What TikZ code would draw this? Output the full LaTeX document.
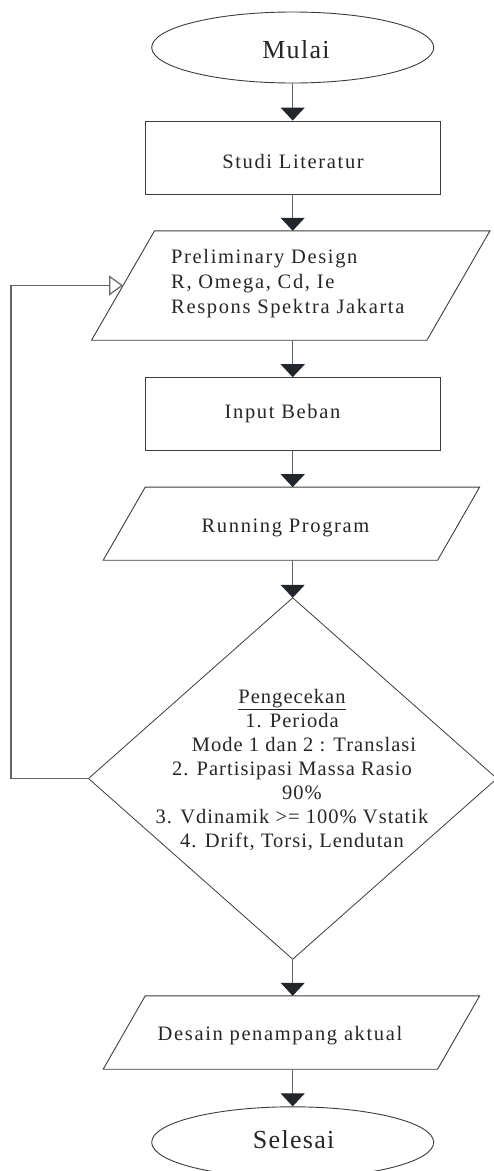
\documentclass[tikz,border=0pt]{standalone}
\usepackage{fontspec}
\setmainfont{Liberation Serif}
\newfontfamily\boxfont{Liberation Serif}[LetterSpace=8]
\newfontfamily\diafont{Liberation Serif}[LetterSpace=5]
\usetikzlibrary{shapes.geometric,arrows.meta}
\definecolor{txtc}{HTML}{262626}
\definecolor{shapec}{HTML}{3C3C3C}
\definecolor{connc}{HTML}{666666}
\definecolor{headc}{HTML}{22262B}
\tikzset{
  shapeline/.style={draw=shapec, line width=0.9pt},
  termbox/.style={ellipse, shapeline, minimum width=282pt, minimum height=71pt, inner sep=0pt},
  procbox/.style={rectangle, shapeline, minimum width=295pt, inner sep=0pt},
  hiddenbox/.style={rectangle, draw=none, inner sep=0pt},
  boxtext/.style={text=txtc, inner sep=0pt, anchor=base, font={\boxfont\fontsize{20.5}{25}\selectfont}},
  termtext/.style={text=txtc, inner sep=0pt, anchor=base, font={\diafont\fontsize{26}{30}\selectfont}},
  diatext/.style={text=txtc, inner sep=0pt, anchor=base, font={\diafont\fontsize{20.5}{24}\selectfont}},
  flow/.style={draw=connc, line width=1.2pt, -{Triangle[width=24pt,length=13pt,color=headc]}},
  loopflow/.style={draw=connc, line width=1.2pt, -{Triangle[open,width=20pt,length=14pt,fill=white]}},
}
\begin{document}
\begin{tikzpicture}[x=1pt,y=-1pt]
\useasboundingbox (0,0) rectangle (494,1171);

% Terminal start
\node[termbox] (mulai) at (292.7,47.5) {};
\node[termtext] (tmulai) at (296,58.3) {Mulai};

% Studi literatur
\node[procbox, minimum height=73pt] (studi) at (292.7,157.5) {};
\node[boxtext] (tstudi) at (293,168) {Studi Literatur};

% Preliminary design (parallelogram)
\node[hiddenbox, minimum width=335pt, minimum height=109pt] (prelim) at (290.75,285.5) {};
\draw[shapeline] ([xshift=31.5pt]prelim.north west) -- ([xshift=31.5pt]prelim.north east)
  -- ([xshift=-31.5pt]prelim.south east) -- ([xshift=-31.5pt]prelim.south west) -- cycle;
\node[boxtext, anchor=base west] (tprelim) at (171,263)
  {\begin{tabular}[t]{@{}l@{}}Preliminary Design\\R, Omega, Cd, Ie\\Respons Spektra Jakarta\end{tabular}};

% Input beban
\node[procbox, minimum height=72.7pt] (input) at (292.7,414) {};
\node[boxtext] (tinput) at (282.5,418) {Input Beban};

% Running program (parallelogram)
\node[hiddenbox, minimum width=334pt, minimum height=72.7pt] (run) at (291.4,523.7) {};
\draw[shapeline] ([xshift=21pt]run.north west) -- ([xshift=21pt]run.north east)
  -- ([xshift=-21pt]run.south east) -- ([xshift=-21pt]run.south west) -- cycle;
\node[boxtext] (trun) at (285.5,532.7) {Running Program};

% Decision diamond
\node[hiddenbox, minimum width=408pt, minimum height=361pt] (chk) at (292.7,778.5) {};
\draw[shapeline, line width=0.8pt] (chk.north) -- (chk.east) -- (chk.south) -- (chk.west) -- cycle;
\node[diatext] (tchk) at (292,703)
  {\begin{tabular}[t]{@{}c@{}}\underline{Pengecekan}\\1. Perioda\\\hspace*{24pt}Mode 1 dan 2 : Translasi\\2. Partisipasi Massa Rasio\\\hspace*{20pt}90\%\\3. Vdinamik >= 100\% Vstatik\\4. Drift, Torsi, Lendutan\end{tabular}};

% Desain penampang aktual (parallelogram)
\node[hiddenbox, minimum width=334pt, minimum height=73pt] (desain) at (291.4,1032.5) {};
\draw[shapeline] ([xshift=21pt]desain.north west) -- ([xshift=21pt]desain.north east)
  -- ([xshift=-21pt]desain.south east) -- ([xshift=-21pt]desain.south west) -- cycle;
\node[boxtext] (tdesain) at (280,1040.7) {Desain penampang aktual};

% Terminal end
\node[termbox] (selesai) at (292.7,1142.3) {};
\node[termtext] (tselesai) at (293.7,1148) {Selesai};

% Connectors
\draw[flow] (mulai.south) -- (studi.north);
\draw[flow] (studi.south) -- (studi.south |- prelim.north);
\draw[flow] (input.north |- prelim.south) -- (input.north);
\draw[flow] (input.south) -- (input.south |- run.north);
\draw[flow] (chk.north |- run.south) -- (chk.north);
\draw[flow] (chk.south) -- (chk.south |- desain.north);
\draw[flow] (selesai.north |- desain.south) -- (selesai.north);

% Loop back
\coordinate (loopc) at (11,778.5);
\draw[loopflow] (chk.west) -- (loopc) |- (prelim.west);
\end{tikzpicture}
\end{document}
